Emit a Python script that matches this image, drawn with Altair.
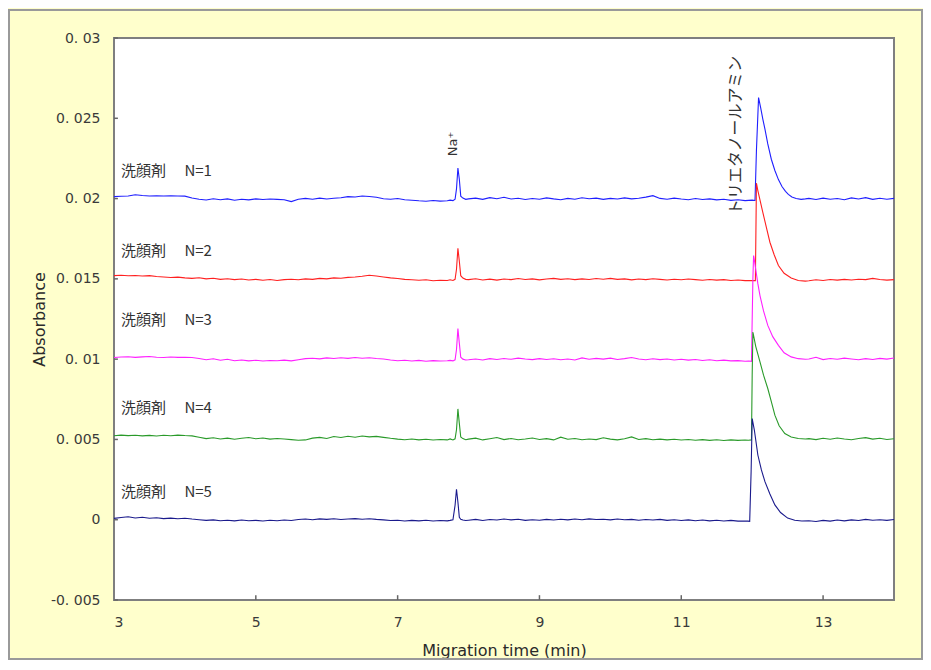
import altair as alt
import pandas as pd

# ---- sample times (min) ----
T_A = [3.0, 3.1, 3.2, 3.3, 3.4, 3.5, 3.6, 3.7, 3.8, 3.9,
       4.0, 4.1, 4.2, 4.3, 4.4, 4.5, 4.6, 4.7, 4.8, 4.9,
       5.0, 5.1, 5.2, 5.3, 5.4, 5.5, 5.6, 5.7, 5.8, 5.9,
       6.0, 6.1, 6.2, 6.3, 6.4, 6.5, 6.6, 6.7, 6.8, 6.9,
       7.0, 7.1, 7.2, 7.3, 7.4, 7.5, 7.6, 7.7]
T_NA = [7.74, 7.78, 7.81, 7.83, 7.85, 7.87, 7.89, 7.92, 7.96]
T_B = [8.0, 8.1, 8.2, 8.3, 8.4, 8.5, 8.6, 8.7, 8.8, 8.9,
       9.0, 9.1, 9.2, 9.3, 9.4, 9.5, 9.6, 9.7, 9.8, 9.9,
       10.0, 10.1, 10.2, 10.3, 10.4, 10.5, 10.6, 10.7, 10.8, 10.9,
       11.0, 11.1, 11.2, 11.3, 11.4, 11.5, 11.6, 11.7, 11.8, 11.9]
T_C = [12.8, 12.9, 13.0, 13.1, 13.2, 13.3, 13.4, 13.5, 13.6, 13.7, 13.8, 13.9, 14.0]

T_TEA1 = [12.0, 12.04, 12.06, 12.09, 12.12, 12.15, 12.18, 12.22, 12.27, 12.32, 12.37, 12.42, 12.47, 12.51, 12.56, 12.62, 12.69, 12.75]
T_TEA2 = [12.0, 12.045, 12.06, 12.08, 12.10, 12.15, 12.20, 12.25, 12.31, 12.37, 12.45, 12.55, 12.65, 12.75]
T_TEA3 = [11.95, 11.99, 12.01, 12.02, 12.03, 12.05, 12.08, 12.11, 12.16, 12.22, 12.29, 12.37, 12.45, 12.55, 12.65, 12.75]
T_TEA4 = [11.95, 11.99, 12.0, 12.01, 12.05, 12.11, 12.16, 12.22, 12.27, 12.32, 12.38, 12.46, 12.55, 12.65, 12.75]
T_TEA5 = [11.94, 11.965, 11.985, 12.0, 12.03, 12.08, 12.13, 12.18, 12.25, 12.32, 12.40, 12.50, 12.60, 12.70]

# ---- absorbance values, in units of 1e-5 AU ----
# N=1
Y1_A = [2012, 2014, 2016, 2024, 2019, 2016, 2017, 2016, 2017, 2016,
        2015, 2004, 1996, 1991, 1999, 1993, 1998, 1990, 1996, 1992,
        1998, 1994, 1997, 1995, 1993, 1981, 1996, 2001, 1996, 2003,
        1997, 2002, 2005, 2012, 2010, 2016, 2013, 2008, 1999, 1996,
        2000, 1993, 1990, 1986, 1983, 1988, 1984, 1986]
Y1_NA = [1990, 1987, 1996, 2060, 2190, 2120, 2015, 2003, 1995]
Y1_B = [1998, 2003, 1995, 2006, 1999, 2008, 1997, 2002, 1994, 2000,
        1996, 2004, 1998, 1993, 2001, 1996, 2005, 1999, 2003, 1995,
        2001, 1997, 2004, 1998, 2002, 2009, 2018, 2001, 1996, 2003,
        1997, 1993, 2000, 1994, 1998, 1992, 1996, 1989, 1993, 1987]
Y1_TEA = [1990, 1988, 2300, 2629, 2565, 2495, 2432, 2340, 2245, 2175, 2118, 2075, 2045, 2026, 2010, 2000, 1995, 1998]
Y1_C = [2001, 1994, 2003, 1996, 2000, 1993, 2004, 1997, 2006, 1995, 2002, 1996, 2001]

# N=2
Y2_A = [1520, 1522, 1519, 1521, 1518, 1520, 1515, 1512, 1508, 1511,
        1506, 1503, 1507, 1500, 1504, 1497, 1501, 1495, 1499, 1493,
        1497, 1491, 1496, 1490, 1495, 1498, 1494, 1500, 1497, 1503,
        1500, 1506, 1504, 1509, 1512, 1516, 1522, 1518, 1512, 1506,
        1502, 1497, 1494, 1491, 1494, 1488, 1491, 1490]
Y2_NA = [1494, 1490, 1497, 1560, 1690, 1610, 1520, 1505, 1497]
Y2_B = [1495, 1501, 1493, 1498, 1492, 1499, 1495, 1502, 1496, 1500,
        1494, 1499, 1503, 1497, 1501, 1495, 1500, 1496, 1502, 1498,
        1503, 1497, 1500, 1494, 1499, 1495, 1501, 1497, 1493, 1498,
        1494, 1499, 1495, 1491, 1496, 1492, 1495, 1490, 1493, 1489]
Y2_TEA = [1490, 1489, 2096, 2050, 2010, 1914, 1820, 1728, 1650, 1583, 1535, 1505, 1490, 1486]
Y2_C = [1488, 1494, 1490, 1496, 1492, 1497, 1493, 1498, 1495, 1503, 1496, 1492, 1495]

# N=3
Y3_A = [1010, 1013, 1015, 1011, 1014, 1016, 1012, 1010, 1013, 1011,
        1012, 1010, 1004, 996, 1002, 993, 999, 990, 995, 989,
        993, 988, 992, 990, 994, 989, 996, 1003, 1006, 1002,
        1008, 1004, 1009, 1005, 1010, 1006, 1009, 1004, 1001, 995,
        990, 993, 988, 992, 987, 991, 988, 990]
Y3_NA = [992, 989, 996, 1060, 1190, 1100, 1012, 1000, 995]
Y3_B = [996, 1001, 995, 1003, 998, 1004, 999, 1006, 1001, 997,
        1003, 998, 1002, 996, 1001, 995, 1008, 999, 1005, 1000,
        1006, 998, 1003, 1010, 1001, 996, 1002, 997, 1001, 995,
        999, 994, 998, 992, 996, 990, 994, 989, 991, 987]
Y3_TEA = [988, 986, 1500, 1645, 1620, 1560, 1470, 1396, 1300, 1210, 1140, 1086, 1040, 1014, 1003, 999]
Y3_C = [1001, 1012, 997, 1004, 999, 1006, 1001, 996, 1003, 998, 1005, 1000, 1007]

# N=4
Y4_A = [523, 527, 524, 526, 522, 525, 521, 526, 523, 527,
        524, 522, 514, 505, 510, 503, 508, 501, 507, 512,
        504, 509, 502, 506, 503, 499, 495, 497, 508, 513,
        506, 518, 512, 520, 514, 521, 516, 519, 513, 507,
        502, 498, 503, 497, 501, 496, 500, 497]
Y4_NA = [503, 497, 504, 560, 690, 600, 515, 505, 498]
Y4_B = [502, 508, 497, 504, 512, 499, 506, 498, 503, 509,
        500, 505, 497, 514, 501, 506, 498, 503, 499, 510,
        502, 497, 504, 516, 500, 505, 498, 502, 497, 501,
        496, 500, 495, 499, 494, 498, 493, 497, 494, 496]
Y4_TEA = [495, 497, 900, 1169, 1080, 983, 900, 817, 735, 651, 585, 537, 515, 506, 503]
Y4_C = [505, 499, 507, 501, 509, 503, 498, 506, 511, 502, 507, 500, 504]

# N=5
Y5_A = [8, 14, 18, 11, 15, 9, 12, 7, 10, 6,
        9, 4, 0, -4, -1, -6, -3, -7, -2, -6,
        -4, -8, -3, -6, -2, -5, 1, 4, 0, 5,
        2, 6, 1, 4, 7, 3, 6, 2, -1, -5,
        -3, -8, -4, -7, -3, -8, -5, -7]
Y5_NA = [-4, 0, 90, 190, 110, 15, 3, -2, -5]
Y5_B = [-3, 2, -5, 1, -2, 4, -1, 3, -4, 0,
        -3, 2, -2, 3, -1, 4, 0, 5, 1, 3,
        -1, 4, 0, 2, -3, 1, -2, 2, -4, 0,
        -5, -1, -6, -2, -7, -3, -8, -4, -9, -8]
Y5_TEA = [-9, -10, 300, 630, 560, 403, 310, 237, 160, 92, 45, 10, -3, -8]
Y5_C = [-6, -11, -4, -9, -2, -7, -1, -5, 2, -3, 0, -4, 1]

SERIES = ["N=1", "N=2", "N=3", "N=4", "N=5"]
COLORS = ["#1f1fff", "#ff2020", "#ff20ff", "#2a9a2a", "#1a1a8c"]
LABEL_TEXT = ["洗顔剤\u3000 N=1", "洗顔剤\u3000 N=2", "洗顔剤\u3000 N=3", "洗顔剤\u3000 N=4", "洗顔剤\u3000 N=5"]
LABEL_X = [3.1, 3.1, 3.1, 3.1, 3.1]
LABEL_Y = [0.02173, 0.01672, 0.01241, 0.00693, 0.00175]

PEAK_TEXT = ["Na\u207a", "トリエタノールアミン"]
PEAK_X = [7.78, 11.77]
PEAK_Y = [0.02264, 0.01898]

X_TICKS = [3, 5, 7, 9, 11, 13]
Y_TICKS = [-0.005, 0, 0.005, 0.01, 0.015, 0.02, 0.025, 0.03]

# ---- build table ----
parts = [
    (T_TEA1, Y1_A, Y1_NA, Y1_B, Y1_TEA, Y1_C),
    (T_TEA2, Y2_A, Y2_NA, Y2_B, Y2_TEA, Y2_C),
    (T_TEA3, Y3_A, Y3_NA, Y3_B, Y3_TEA, Y3_C),
    (T_TEA4, Y4_A, Y4_NA, Y4_B, Y4_TEA, Y4_C),
    (T_TEA5, Y5_A, Y5_NA, Y5_B, Y5_TEA, Y5_C),
]
rows = []
for name, (tt, ya, yna, yb, ytea, yc) in zip(SERIES, parts):
    ts = T_A + T_NA + T_B + tt + T_C
    ys = ya + yna + yb + ytea + yc
    for t, v in zip(ts, ys):
        rows.append({"t": t, "a": v / 1e5, "s": name})
df = pd.DataFrame(rows)

labels_df = pd.DataFrame({"t": LABEL_X, "a": LABEL_Y, "txt": LABEL_TEXT})
peaks_df = pd.DataFrame({"t": PEAK_X, "a": PEAK_Y, "txt": PEAK_TEXT})

XMIN, XMAX = 3, 14
YMIN, YMAX = -0.005, 0.03
xticks_df = pd.DataFrame({"t": X_TICKS[1:], "a": [YMIN] * 5, "a2": [YMIN + 0.0003] * 5})
yticks_df = pd.DataFrame({"t": [XMIN] * len(Y_TICKS), "t2": [XMIN + 0.055] * len(Y_TICKS), "a": Y_TICKS})

xscale = alt.Scale(domain=[XMIN, XMAX], nice=False, zero=False)
yscale = alt.Scale(domain=[YMIN, YMAX], nice=False, zero=False)

X_AXIS = alt.Axis(
    values=X_TICKS, title="Migration time (min)", labelPadding=15,
    titleX=390, titleY=50, titleBaseline="middle", titleAlign="center")
Y_AXIS = alt.Axis(
    values=Y_TICKS, labelExpr="replace(toString(datum.value), '.', '. ')",
    title="Absorbance", labelPadding=14,
    titleX=-75, titleY=281, titleBaseline="middle", titleAlign="center")


def X(field="t:Q"):
    return alt.X(field, scale=xscale, axis=X_AXIS)


def Y(field="a:Q"):
    return alt.Y(field, scale=yscale, axis=Y_AXIS)


lines = alt.Chart(df).mark_line(strokeWidth=1.1, clip=True).encode(
    x=X(), y=Y(),
    color=alt.Color("s:N", scale=alt.Scale(domain=SERIES, range=COLORS), legend=None),
)

series_labels = alt.Chart(labels_df).mark_text(
    align="left", baseline="middle", font="Noto Sans CJK JP", fontSize=15, color="#333333"
).encode(x=X(), y=Y(), text="txt:N")

na_label = alt.Chart(peaks_df.iloc[[0]]).mark_text(
    align="left", baseline="middle", angle=270, font="DejaVu Sans", fontSize=13, color="#333333"
).encode(x=X(), y=Y(), text="txt:N")

tea_label = alt.Chart(peaks_df.iloc[[1]]).mark_text(
    align="left", baseline="middle", angle=270, font="Noto Sans CJK JP", fontSize=16, color="#333333"
).encode(x=X(), y=Y(), text="txt:N")

xtick_marks = alt.Chart(xticks_df).mark_rule(color="#666666", strokeWidth=1.5).encode(
    x=X(), y=Y(), y2="a2:Q",
)
ytick_marks = alt.Chart(yticks_df).mark_rule(color="#666666", strokeWidth=1.5).encode(
    x=X(), x2="t2:Q", y=Y(),
)

frame = alt.Chart(pd.DataFrame({"k": [0]})).mark_rect(
    filled=False, stroke="#9a9a9a", strokeWidth=2
).encode(
    x=alt.value(-105), x2=alt.value(808), y=alt.value(-28), y2=alt.value(621)
)

chart = alt.layer(
    frame, lines, xtick_marks, ytick_marks, series_labels, na_label, tea_label
).properties(
    width=780, height=562,
    autosize=alt.AutoSizeParams(type="none"),
    padding={"left": 106, "top": 30, "right": 29, "bottom": 60},
    background="#FFFFCC",
).configure_view(
    fill="white", stroke="#7f7f7f", strokeWidth=2
).configure_axis(
    domain=False, ticks=False, grid=False,
    labelFont="DejaVu Sans", labelFontSize=14, labelColor="#3a3a3a",
    titleFont="DejaVu Sans", titleFontSize=16, titleFontWeight="normal", titleColor="#2a2a2a",
)

chart.save("out.html", embed_options={"renderer": "svg", "actions": False})
